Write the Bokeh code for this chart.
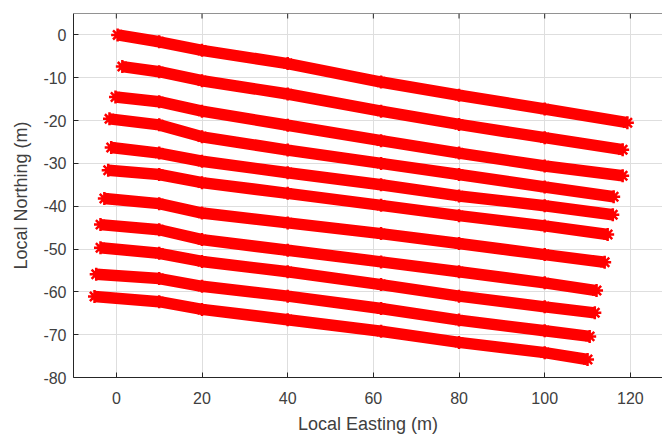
from bokeh.plotting import figure
from bokeh.models import Range1d, FixedTicker, NumeralTickFormatter, Span
from bokeh.embed import file_html
from bokeh.resources import INLINE

# Survey track lines: local easting / northing (m) of logged positions
line01_e = [0.3, 10, 20, 40, 61.8, 80, 100, 119.3]
line01_n = [0.0, -1.6, -3.6, -6.7, -11.0, -14.1, -17.3, -20.5]
line02_e = [1.4, 10, 20, 40, 61.8, 80, 100, 118.2]
line02_n = [-7.4, -8.6, -10.7, -13.8, -17.8, -20.9, -24.0, -26.8]
line03_e = [-0.2, 10, 20, 40, 61.8, 80, 100, 118.2]
line03_n = [-14.5, -15.6, -17.8, -21.1, -24.7, -27.6, -30.6, -32.9]
line04_e = [-1.6, 10, 20, 40, 61.8, 80, 100, 116.1]
line04_n = [-19.6, -21.0, -23.8, -26.9, -30.0, -32.6, -35.5, -37.8]
line05_e = [-1.2, 10, 20, 40, 61.8, 80, 100, 115.9]
line05_n = [-26.3, -27.6, -29.5, -32.2, -35.0, -37.6, -39.9, -42.0]
line06_e = [-1.9, 10, 20, 40, 61.8, 80, 100, 114.7]
line06_n = [-31.6, -32.6, -34.5, -37.0, -39.8, -42.2, -44.6, -46.6]
line07_e = [-2.8, 10, 20, 40, 61.8, 80, 100, 114.0]
line07_n = [-38.2, -39.4, -41.6, -43.9, -46.4, -48.7, -51.3, -53.1]
line08_e = [-3.7, 10, 20, 40, 61.8, 80, 100, 112.1]
line08_n = [-44.3, -45.5, -47.8, -50.3, -53.0, -55.3, -57.9, -59.7]
line09_e = [-3.7, 10, 20, 40, 61.8, 80, 100, 111.7]
line09_n = [-49.7, -51.0, -52.9, -55.3, -58.3, -61.0, -63.5, -64.9]
line10_e = [-4.7, 10, 20, 40, 61.8, 80, 100, 110.5]
line10_n = [-55.9, -56.9, -58.7, -61.0, -63.9, -66.6, -69.1, -70.4]
line11_e = [-5.1, 10, 20, 40, 61.8, 80, 100, 110.0]
line11_n = [-61.1, -62.3, -64.1, -66.5, -69.2, -71.8, -74.2, -75.8]

tracks = [
    (line01_e, line01_n), (line02_e, line02_n), (line03_e, line03_n),
    (line04_e, line04_n), (line05_e, line05_n), (line06_e, line06_n),
    (line07_e, line07_n), (line08_e, line08_n), (line09_e, line09_n),
    (line10_e, line10_n), (line11_e, line11_n),
]

x_ticks = [0, 20, 40, 60, 80, 100, 120]
y_ticks = [-80, -70, -60, -50, -40, -30, -20, -10, 0]

FONT = "Liberation Sans"
TEXT = "#404040"
AXIS = "#262626"
X0, X1, Y0, Y1 = -10, 127.5, -80, 5

p = figure(
    width=662, height=437,
    x_range=Range1d(X0, X1), y_range=Range1d(Y0, Y1),
    output_backend="svg", toolbar_location=None,
    min_border_left=73, min_border_right=0,
    min_border_top=13, min_border_bottom=60,
)
p.outline_line_color = None
p.background_fill_color = "white"

for e, n in tracks:
    p.line(e, n, line_color="#ff0000", line_width=11.5, line_cap="butt", line_join="round")
    p.scatter(e, n, marker="asterisk", size=13, line_color="#ff0000", line_width=2.5)

for ax, ticks in ((p.xaxis[0], x_ticks), (p.yaxis[0], y_ticks)):
    ax.ticker = FixedTicker(ticks=ticks)
    ax.formatter = NumeralTickFormatter(format="0")
    ax.major_tick_in = 5
    ax.major_tick_out = 0
    ax.minor_tick_in = 0
    ax.minor_tick_out = 0
    ax.axis_line_color = AXIS
    ax.major_tick_line_color = AXIS
    ax.major_label_text_font = FONT
    ax.major_label_text_font_size = "16px"
    ax.major_label_text_color = TEXT
    ax.axis_label_text_font = FONT
    ax.axis_label_text_font_size = "18px"
    ax.axis_label_text_font_style = "normal"
    ax.axis_label_text_color = TEXT

p.xaxis.axis_label = "Local Easting (m)"
p.yaxis.axis_label = "Local Northing (m)"
p.xaxis.major_label_standoff = 14
p.xaxis.axis_label_standoff = 7
p.yaxis.major_label_standoff = 7
p.yaxis.axis_label_standoff = 9

# box edge along the top with inward ticks
p.add_layout(Span(location=Y1, dimension="width", line_color=AXIS, line_width=1))
tick_len = 5 * (Y1 - Y0) / 364.0
p.segment(x0=x_ticks, y0=[Y1] * len(x_ticks), x1=x_ticks, y1=[Y1 - tick_len] * len(x_ticks),
          line_color=AXIS, line_width=1)

p.xgrid.ticker = FixedTicker(ticks=x_ticks)
p.ygrid.ticker = FixedTicker(ticks=y_ticks)
for g in (p.xgrid[0], p.ygrid[0]):
    g.grid_line_color = "#dedede"
    g.grid_line_width = 1

open("out.html", "w").write(file_html(p, INLINE))
